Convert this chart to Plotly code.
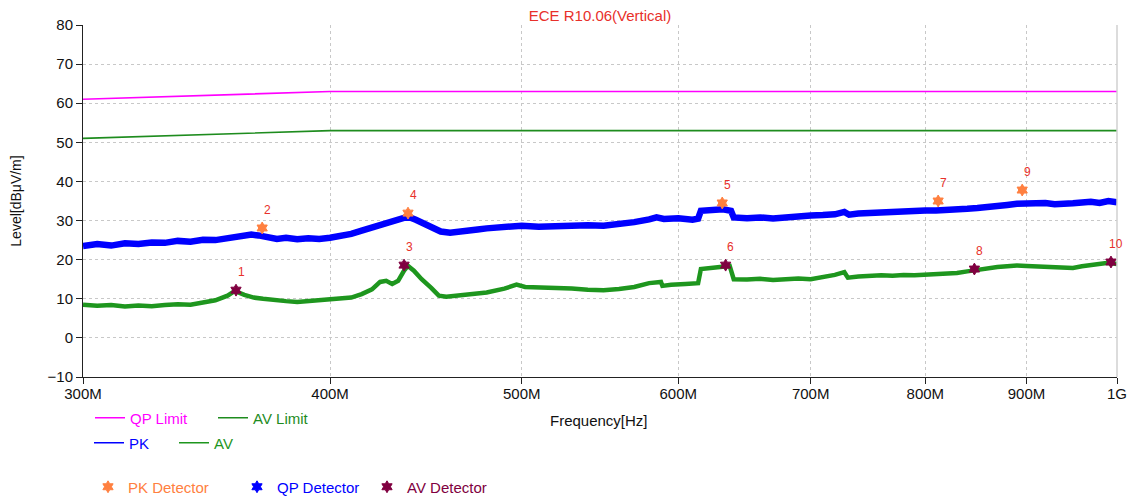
import math
import plotly.graph_objects as go

# ---------------- data (frequencies in MHz, levels in dBµV/m) ----------------
limit_freq = [300, 400, 1000]
qp_limit = [61, 63, 63]
av_limit = [51, 53, 53]

pk_freq = [300, 305, 310, 315, 320, 325, 330, 335, 340, 345, 350, 355, 360, 365, 368,
           372, 376, 380, 385, 390, 395, 400, 405, 410, 415, 420, 425, 430, 435, 438,
           442, 446, 450, 455, 460, 465, 470, 475, 480, 490, 500, 510, 520, 530, 540,
           550, 560, 570, 580, 585, 590, 600, 610, 614, 616, 625, 632, 638, 640, 650,
           660, 670, 680, 690, 700, 710, 720, 728, 732, 740, 750, 760, 770, 780, 790,
           800, 810, 820, 830, 840, 850, 860, 870, 880, 890, 900, 910, 920, 930, 940,
           950, 960, 970, 980, 990, 1000]
pk_level = [23.5, 24.0, 23.6, 24.2, 24.0, 24.4, 24.3, 24.8, 24.6, 25.1, 25.0, 25.6, 26.0, 26.4, 26.2,
            25.6, 25.3, 25.6, 25.2, 25.5, 25.3, 25.6, 26.0, 26.6, 27.4, 28.2, 29.0, 29.8, 30.6, 31.0,
            30.2, 29.2, 28.2, 27.2, 26.9, 27.3, 27.6, 27.7, 28.0, 28.3, 28.7, 28.4, 28.6, 28.5, 28.8,
            28.7, 29.0, 29.6, 30.3, 30.8, 30.4, 30.6, 30.2, 30.5, 32.5, 32.7, 32.9, 32.5, 30.8, 30.6,
            30.8, 30.5, 30.9, 31.0, 31.3, 31.4, 31.6, 32.2, 31.5, 31.8, 32.0, 32.2, 32.0, 32.4, 32.5,
            32.6, 32.6, 32.6, 32.8, 33.0, 33.2, 33.6, 33.8, 34.0, 34.3, 34.4, 34.3, 34.5, 34.2, 34.5,
            34.4, 34.6, 34.8, 34.5, 35.0, 34.7]

av_freq = [300, 305, 310, 315, 320, 325, 330, 335, 340, 345, 350, 355, 358, 362, 366,
           370, 375, 380, 385, 390, 395, 400, 405, 410, 415, 420, 424, 427, 430, 433,
           436, 438, 441, 445, 450, 454, 458, 465, 470, 480, 490, 497, 502, 510, 520,
           530, 540, 550, 560, 570, 580, 588, 589, 595, 605, 614, 616, 625, 632, 637,
           640, 650, 660, 670, 680, 690, 700, 710, 720, 728, 731, 740, 750, 760, 770,
           780, 790, 800, 810, 820, 830, 840, 850, 860, 870, 880, 890, 900, 910, 920,
           930, 940, 950, 960, 970, 980, 990, 1000]
av_level = [8.5, 8.2, 8.4, 8.0, 8.3, 8.1, 8.4, 8.6, 8.5, 9.0, 9.6, 10.8, 12.0, 11.0, 10.3,
            10.0, 9.6, 9.4, 9.2, 9.4, 9.5, 9.7, 9.9, 10.3, 11.2, 12.4, 14.3, 14.6, 13.8, 14.6,
            17.2, 18.4, 17.2, 15.0, 12.8, 10.8, 10.5, 10.9, 11.2, 11.6, 12.6, 13.6, 13.0, 12.9, 13.0,
            12.6, 12.3, 12.2, 12.5, 13.0, 14.0, 14.3, 13.3, 13.6, 13.8, 14.0, 17.6, 17.9, 18.2, 18.4,
            15.0, 14.9, 15.1, 14.8, 15.0, 15.2, 15.0, 15.5, 16.1, 16.8, 15.4, 15.7, 15.9, 16.0, 15.9,
            16.1, 16.0, 16.1, 16.2, 16.3, 16.6, 17.0, 17.4, 17.9, 18.1, 18.3, 18.5, 18.4, 18.3, 18.2,
            18.0, 18.1, 17.9, 18.3, 18.6, 18.9, 19.2, 18.9]

pk_det_freq = [369.6, 438, 631.5, 812, 895.5]
pk_det_level = [28.1, 31.9, 34.5, 35.0, 37.8]
pk_det_label = ["2", "4", "5", "7", "9"]

qp_det_freq = [None]   # no QP detector readings
qp_det_level = [None]

av_det_freq = [358.5, 436, 634, 847, 993]
av_det_level = [12.2, 18.6, 18.6, 17.6, 19.4]
av_det_label = ["1", "3", "6", "8", "10"]

x_tickvals = [300, 400, 500, 600, 700, 800, 900, 1000]
x_ticktext = ["300M", "400M", "500M", "600M", "700M", "800M", "900M", "1G"]
y_tickvals = [-10, 0, 10, 20, 30, 40, 50, 60, 70, 80]

# ---------------- colours ----------------
C_QP = "#FF00FF"
C_AVL = "#1E8C1E"
C_PK = "#0000FF"
C_AV = "#1E961E"
C_PKD = "#FF8040"
C_QPD = "#0000FF"
C_AVD = "#800040"
C_LABEL = "#E8302A"

FONT = "Arial, Liberation Sans, sans-serif"
FS = 15
OFF = 8                      # page body margin offset
W, H = 1138 - OFF, 497 - OFF
PL, PR, PT, PB = 83, 1117, 25, 377   # plot area in page pixels

fig = go.Figure()

fig.add_trace(go.Scatter(x=limit_freq, y=qp_limit, mode="lines", name="QP Limit",
                         line=dict(color=C_QP, width=1.6), legend="legend"))
fig.add_trace(go.Scatter(x=limit_freq, y=av_limit, mode="lines", name="AV Limit",
                         line=dict(color=C_AVL, width=1.6), legend="legend2"))
fig.add_trace(go.Scatter(x=pk_freq, y=pk_level, mode="lines", name="PK",
                         line=dict(color=C_PK, width=6.5), showlegend=False))
fig.add_trace(go.Scatter(x=av_freq, y=av_level, mode="lines", name="AV",
                         line=dict(color=C_AV, width=4.5), showlegend=False))
# thin legend entries for the measured traces
fig.add_trace(go.Scatter(x=[None], y=[None], mode="lines", name="PK",
                         line=dict(color=C_PK, width=1.6), legend="legend3"))
fig.add_trace(go.Scatter(x=[None], y=[None], mode="lines", name="AV",
                         line=dict(color=C_AV, width=1.6), legend="legend4"))
fig.add_trace(go.Scatter(x=pk_det_freq, y=pk_det_level, mode="markers", name="PK Detector",
                         marker=dict(color=C_PKD, symbol="hexagram", size=9,
                                     line=dict(color=C_PKD, width=1)), legend="legend5"))
fig.add_trace(go.Scatter(x=qp_det_freq, y=qp_det_level, mode="markers", name="QP Detector",
                         marker=dict(color=C_QPD, symbol="hexagram", size=9,
                                     line=dict(color=C_QPD, width=1)), legend="legend6"))
fig.add_trace(go.Scatter(x=av_det_freq, y=av_det_level, mode="markers", name="AV Detector",
                         marker=dict(color=C_AVD, symbol="hexagram", size=9,
                                     line=dict(color=C_AVD, width=1)), legend="legend7"))

# marker number labels (annotations on a log axis use log10 coordinates)
for fx, fy, lab in list(zip(pk_det_freq, pk_det_level, pk_det_label)) + \
        list(zip(av_det_freq, av_det_level, av_det_label)):
    fig.add_annotation(x=math.log10(fx), y=fy, text=lab, showarrow=False, xshift=5, yshift=18,
                       font=dict(family=FONT, size=12, color=C_LABEL),
                       xref="x", yref="y")

# x-axis title
fig.add_annotation(text="Frequency[Hz]", xref="paper", yref="paper",
                   x=(599 - PL) / (PR - PL), y=-(420 - PB) / (PB - PT),
                   xanchor="center", yanchor="middle", showarrow=False,
                   font=dict(family=FONT, size=FS, color="#111111"))

fig.update_xaxes(type="log", range=[math.log10(300), math.log10(1000)],
                 tickvals=x_tickvals, ticktext=x_ticktext,
                 showgrid=True, gridcolor="#C8C8C8", griddash="dot", gridwidth=1,
                 showline=True, linecolor="#222222", linewidth=1,
                 ticks="outside", ticklen=6, tickcolor="#222222",
                 ticklabelstandoff=-3,
                 tickfont=dict(family=FONT, size=FS, color="#111111"),
                 zeroline=False)
fig.update_yaxes(range=[-10, 80], tickvals=y_tickvals,
                 showgrid=True, gridcolor="#C8C8C8", griddash="dot", gridwidth=1,
                 showline=True, linecolor="#222222", linewidth=1,
                 ticks="outside", ticklen=6, tickcolor="#222222",
                 tickfont=dict(family=FONT, size=FS, color="#111111"),
                 zeroline=False,
                 title=dict(text="Level[dBμV/m]", font=dict(family=FONT, size=14, color="#111111"),
                            standoff=30))

# right border line
fig.add_shape(type="line", xref="paper", yref="paper", x0=1, x1=1, y0=0, y1=1,
              line=dict(color="#D0D0D0", width=1.5))


def leg(px, py, color):
    return dict(x=(px - OFF) / W, y=1 - (py - OFF) / H, xref="container", yref="container",
                xanchor="left", yanchor="middle", orientation="h",
                bgcolor="rgba(0,0,0,0)", borderwidth=0,
                font=dict(family=FONT, size=FS, color=color),
                itemwidth=30, tracegroupgap=0)


fig.update_layout(
    width=W, height=H,
    margin=dict(l=PL - OFF, r=W - (PR - OFF), t=PT - OFF, b=H - (PB - OFF), autoexpand=False),
    paper_bgcolor="white", plot_bgcolor="white",
    title=dict(text="ECE R10.06(Vertical)", x=(600 - OFF) / W, xanchor="center",
               y=1 - (16 - OFF) / H, yanchor="middle",
               font=dict(family=FONT, size=FS, color="#E8302A")),
    legend=leg(90, 418, C_QP),
    legend2=leg(213, 418, C_AVL),
    legend3=leg(89, 443, C_PK),
    legend4=leg(174, 443, C_AV),
    legend5=leg(88, 487, C_PKD),
    legend6=leg(237, 487, C_QPD),
    legend7=leg(367, 487, C_AVD),
    showlegend=True,
)

fig.write_html("out.html")
